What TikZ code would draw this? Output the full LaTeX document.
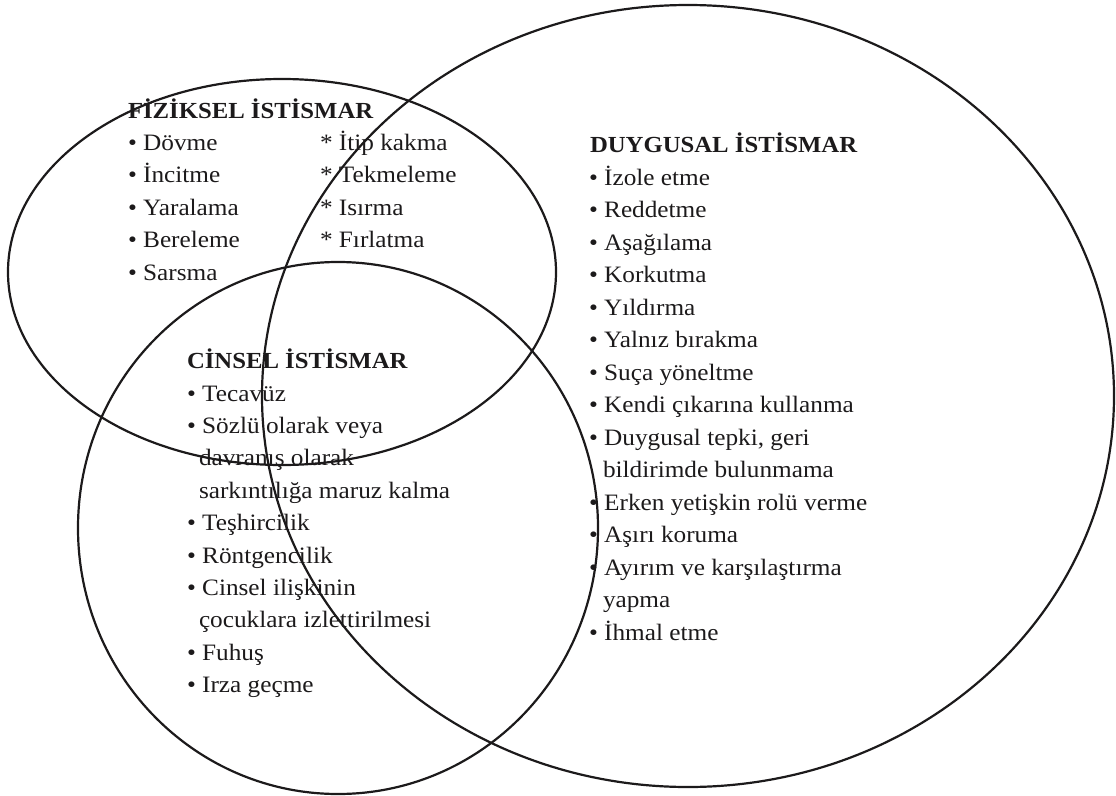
\documentclass[tikz,border=0pt]{standalone}
\usepackage{fontspec}
\setmainfont{Liberation Serif}[FakeStretch=1.075]
\definecolor{ink}{RGB}{28,26,27}
\tikzset{
  ring/.style={draw=ink, line width=2.2pt},
  txt/.style={anchor=base west, inner sep=0pt, outer sep=0pt, text=ink, font=\fontsize{23.5}{26}\selectfont},
  ttl/.style={txt, font=\fontsize{23}{26}\selectfont\bfseries}
}
\begin{document}
\begin{tikzpicture}[x=1pt,y=-1pt]
\useasboundingbox (0,0) rectangle (1116,795);
% circles
\draw[ring] (282,272) ellipse [x radius=274pt, y radius=193pt];
\draw[ring] (688,396) ellipse [x radius=426pt, y radius=391pt];
\draw[ring] (338,528) ellipse [x radius=260pt, y radius=266pt];
% physical
\node[ttl] (ftitle) at (128,118) {FİZİKSEL İSTİSMAR};
\foreach \t [count=\i] in {Dövme, İncitme, Yaralama, Bereleme, Sarsma}
  \node[txt] (f\i) at (128,{150+32.5*(\i-1)}) {• \t};
\foreach \t [count=\i] in {İtip kakma, Tekmeleme, Isırma, Fırlatma}
  \node[txt] (g\i) at (320,{150+32.5*(\i-1)}) {* \t};
% emotional
\node[ttl] (dtitle) at (590,152) {DUYGUSAL İSTİSMAR};
\foreach \dx/\t [count=\i] in {589/{• İzole etme}, 589/{• Reddetme}, 589/{• Aşağılama},
  589/{• Korkutma}, 589/{• Yıldırma}, 589/{• Yalnız bırakma}, 589/{• Suça yöneltme},
  589/{• Kendi çıkarına kullanma}, 589/{• Duygusal tepki, geri}, 603/{bildirimde bulunmama},
  589/{• Erken yetişkin rolü verme}, 589/{• Aşırı koruma}, 589/{• Ayırım ve karşılaştırma},
  603/{yapma}, 589/{• İhmal etme}}
  \node[txt] (d\i) at (\dx,{185+32.5*(\i-1)}) {\t};
% sexual
\node[ttl] (ctitle) at (187,368) {CİNSEL İSTİSMAR};
\foreach \dx/\t [count=\i] in {187/{• Tecavüz}, 187/{• Sözlü olarak veya}, 199/{davranış olarak},
  199/{sarkıntılığa maruz kalma}, 187/{• Teşhircilik}, 187/{• Röntgencilik},
  187/{• Cinsel ilişkinin}, 199/{çocuklara izlettirilmesi}, 187/{• Fuhuş}, 187/{• Irza geçme}}
  \node[txt] (c\i) at (\dx,{401+32.4*(\i-1)}) {\t};
\end{tikzpicture}
\end{document}
